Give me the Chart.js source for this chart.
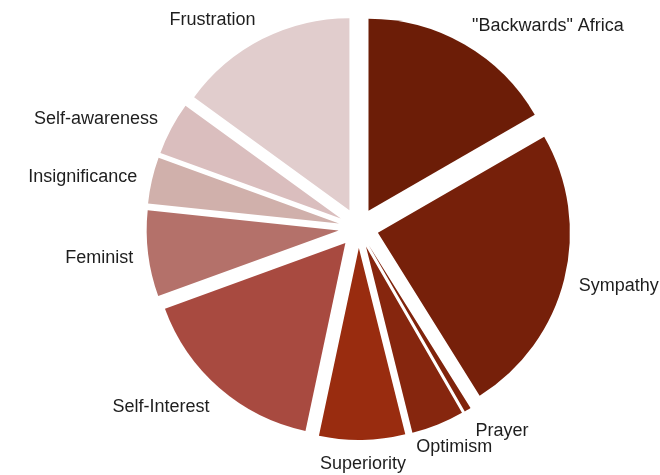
<!DOCTYPE html>
<html>
<head>
<meta charset="utf-8">
<script src="https://cdn.jsdelivr.net/npm/chart.js@4/dist/chart.umd.min.js"></script>
<style>
  html, body { margin: 0; padding: 0; background: #ffffff; }
  #themes { display: block; }
</style>
</head>
<body>
<canvas id="themes" width="660" height="475"></canvas>
<script>
// themes, counted clockwise from 12 o'clock
const categories = [
  '"Backwards" Africa',
  'Sympathy',
  'Prayer',
  'Optimism',
  'Superiority',
  'Self-Interest',
  'Feminist',
  'Insignificance',
  'Self-awareness',
  'Frustration'
];
const counts = [30, 44, 1, 8, 13, 29, 13, 7, 8, 27];
const sliceColors = [
  '#6c1d07',
  '#76200a',
  '#80240c',
  '#86260e',
  '#992c0f',
  '#a84a40',
  '#b4716a',
  '#d0b0ab',
  '#dabebe',
  '#e1cdcd'
];

const EXPLODE = 20;      // every slice is pushed out by the same distance
const LABEL_GAP = 35;    // distance of the label anchor past the rim
const LABEL_FONT = '18px "Liberation Sans", Arial, Helvetica, sans-serif';

// Chart.js "offset" also grows the radius of thin slices, so translate each arc ourselves
const explodePlugin = {
  id: 'explode',
  beforeDatasetDraw(chart, args) {
    const ctx = chart.ctx;
    args.meta.data.forEach(arc => {
      const mid = (arc.startAngle + arc.endAngle) / 2;
      ctx.save();
      ctx.translate(Math.cos(mid) * EXPLODE, Math.sin(mid) * EXPLODE);
      arc.draw(ctx, chart.chartArea);
      ctx.restore();
    });
    return false;
  }
};

// category names outside the pie, at each slice's middle angle
const outsideLabels = {
  id: 'outsideLabels',
  afterDatasetsDraw(chart) {
    const ctx = chart.ctx;
    const meta = chart.getDatasetMeta(0);
    ctx.save();
    ctx.font = LABEL_FONT;
    ctx.fillStyle = '#1e1e1e';
    ctx.textAlign = 'center';
    ctx.textBaseline = 'alphabetic';
    const capHalf = 6.5;
    meta.data.forEach((arc, i) => {
      const { x, y, startAngle, endAngle, outerRadius } = arc.getProps(['x', 'y', 'startAngle', 'endAngle', 'outerRadius'], true);
      const mid = (startAngle + endAngle) / 2;
      const ux = Math.cos(mid);
      const uy = Math.sin(mid);
      const r = outerRadius + LABEL_GAP;
      const px = x + ux * r;
      const py = y + uy * r;
      const label = chart.data.labels[i];
      const w = ctx.measureText(label).width;
      // sides hang off the anchor, labels near top/bottom slide towards centre
      const g = Math.abs(ux) > 0.42 ? Math.sign(ux) : ux * 0.75;
      const cx = px + g * w / 2;
      const cy = py + uy * 8;
      ctx.fillText(label, cx, cy + capHalf);
    });
    ctx.restore();
  }
};

new Chart(document.getElementById('themes'), {
  type: 'pie',
  plugins: [explodePlugin, outsideLabels],
  data: {
    labels: categories,
    datasets: [{
      data: counts,
      backgroundColor: sliceColors,
      borderWidth: 0
    }]
  },
  options: {
    responsive: false,
    animation: false,
    radius: 192,
    layout: {
      padding: { left: 57, right: 0, top: 0, bottom: 19 }
    },
    plugins: {
      legend: { display: false },
      tooltip: { enabled: false }
    }
  }
});
</script>
</body>
</html>
